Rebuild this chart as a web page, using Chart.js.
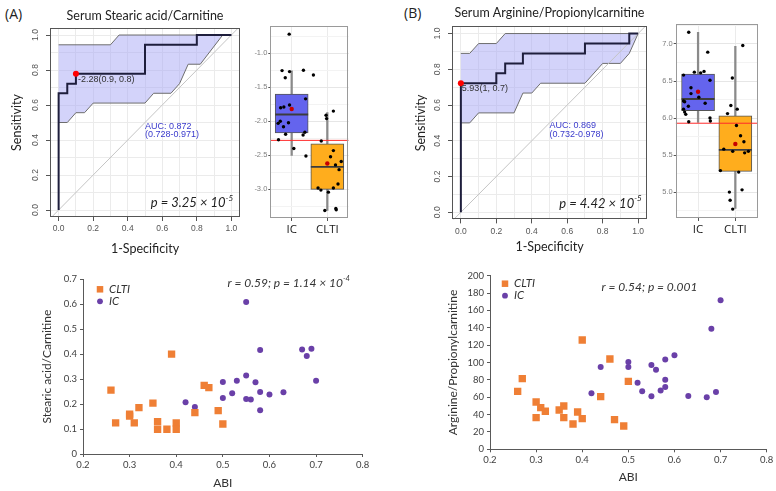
<!DOCTYPE html>
<html>
<head>
<meta charset="utf-8">
<script src="https://cdn.jsdelivr.net/npm/chart.js@4.4.1/dist/chart.umd.min.js"></script>
<style>
  body { margin: 0; background: #fff; }
  #fig { position: relative; width: 776px; height: 491px; overflow: hidden; background: #fff; }
  #fig canvas { position: absolute; }
  .tag { position: absolute; font: 14px "Open Sans", sans-serif; color: #222; }
</style>
</head>
<body>
<div id="fig">
  <div class="tag" style="left:5px;top:4px">(A)</div>
  <div class="tag" style="left:404px;top:3px">(B)</div>
  <canvas id="rocA" width="250" height="262" style="left:0;top:0"></canvas>
  <canvas id="boxA" width="115" height="245" style="left:252px;top:0"></canvas>
  <canvas id="rocB" width="265" height="262" style="left:390px;top:0"></canvas>
  <canvas id="boxB" width="119" height="245" style="left:657px;top:0"></canvas>
  <canvas id="scatA" width="376" height="226" style="left:0;top:265px"></canvas>
  <canvas id="scatB" width="386" height="229" style="left:390px;top:262px"></canvas>
</div>
<script>
// ---- ROC curves (x = 1-specificity, y = sensitivity) ----
var rocTicks = [0, 0.1, 0.2, 0.3, 0.4, 0.5, 0.6, 0.7, 0.8, 0.9, 1];
var diag = [-0.05, 1.05];

var rocAX = [0, 0, 0.05, 0.05, 0.1, 0.1, 0.5, 0.5, 0.8, 0.8, 1];
var rocAY = [0, 0.667, 0.667, 0.722, 0.722, 0.778, 0.778, 0.944, 0.944, 1, 1];
var bandAUpX = [0, 0.3, 0.35, 1];
var bandAUpY = [0.944, 0.944, 1, 1];
var bandALoX = [0, 0.05, 0.1, 0.15, 0.2, 0.5, 0.55, 0.65, 0.7, 0.75, 0.82, 0.95, 1];
var bandALoY = [0.5, 0.5, 0.556, 0.556, 0.611, 0.611, 0.667, 0.667, 0.722, 0.833, 0.833, 1, 1];
var cutA = [0.1, 0.778];

var rocBX = [0, 0, 0.2, 0.2, 0.25, 0.25, 0.35, 0.35, 0.7, 0.7, 0.95, 0.95, 1];
var rocBY = [0, 0.722, 0.722, 0.778, 0.778, 0.833, 0.833, 0.889, 0.889, 0.944, 0.944, 1, 1];
var bandBUpX = [0, 0.05, 0.1, 0.2, 0.25, 1];
var bandBUpY = [0.889, 0.889, 0.944, 0.944, 1, 1];
var bandBLoX = [0, 0.05, 0.1, 0.3, 0.35, 0.4, 0.45, 0.7, 0.8, 0.9, 0.95, 1];
var bandBLoY = [0.5, 0.5, 0.556, 0.556, 0.667, 0.667, 0.722, 0.722, 0.833, 0.833, 0.889, 1];
var cutB = [0, 0.722];

// ---- box plots ----
var groups = ["IC", "CLTI"];
var loA = [-2.5, -3.31], q1A = [-2.17, -3.0], medA = [-1.9, -2.67], q3A = [-1.6, -2.33], hiA = [-1.26, -1.87];
var meanA = [-1.82, -2.62];
var thrA = -2.28;
var icJitA = [-0.07, -0.27, -0.06, -0.18, 0.33, 0.61, -0.31, -0.22, -0.06, 0.39, -0.38, -0.32, -0.09, -0.23, -0.17, 0.32, 0.37, -0.37, 0.06, 0.40];
var icPtsA = [-0.72, -1.255, -1.27, -1.36, -1.25, -1.32, -1.80, -1.79, -1.76, -1.67, -2.03, -2.0, -2.02, -2.08, -2.19, -2.2, -2.16, -2.27, -2.40, -2.51];
var cltiJitA = [-0.17, -0.035, -0.02, 0.17, 0.17, 0.09, 0.23, 0.39, 0.33, 0.30, -0.26, -0.18, 0.17, 0.03, -0.07, 0.24, 0.25];
var cltiPtsA = [-2.29, -1.91, -1.96, -1.85, -2.43, -2.52, -2.64, -2.59, -2.71, -2.92, -2.98, -3.01, -2.98, -3.04, -3.31, -3.28, -3.30];
var boxTicksA = [-3.25, -3.0, -2.75, -2.5, -2.25, -2.0, -1.75, -1.5, -1.25, -1.0, -0.75];

var loB = [5.94, 4.78], q1B = [6.10, 5.28], medB = [6.257, 5.57], q3B = [6.595, 6.03], hiB = [7.158, 6.97];
var meanB = [6.355, 5.65];
var thrB = 5.93;
var icJitB = [-0.25, 0.26, -0.1, 0.07, 0.16, -0.39, 0.32, -0.19, -0.19, 0.02, -0.39, -0.36, 0.19, -0.26, -0.39, -0.36, -0.33, 0.32, 0.33, -0.25];
var icPtsB = [7.158, 6.89, 6.62, 6.61, 6.63, 6.58, 6.51, 6.41, 6.33, 6.28, 6.23, 6.22, 6.20, 6.16, 6.12, 6.08, 6.05, 6.0, 5.96, 5.95];
var cltiJitB = [0.20, -0.08, -0.12, 0.05, 0.03, -0.21, 0.14, 0.23, -0.31, -0.07, 0.25, 0.35, -0.40, 0.09, 0.18, -0.16, -0.14, -0.07];
var cltiPtsB = [6.98, 6.54, 6.17, 6.12, 5.90, 6.06, 5.76, 5.68, 5.58, 5.55, 5.53, 5.55, 5.29, 5.27, 5.03, 5.0, 4.89, 4.77];
var boxTicksB = [4.75, 5.0, 5.25, 5.5, 5.75, 6.0, 6.25, 6.5, 6.75, 7.0, 7.25];

// ---- ABI scatter ----
var abiTicks = [0.2, 0.3, 0.4, 0.5, 0.6, 0.7, 0.8];
var cltiAbiA = [0.26, 0.27, 0.30, 0.30, 0.31, 0.32, 0.35, 0.36, 0.36, 0.38, 0.39, 0.40, 0.40, 0.44, 0.46, 0.47, 0.49, 0.50];
var cltiValA = [0.256, 0.125, 0.160, 0.152, 0.125, 0.186, 0.204, 0.13, 0.099, 0.099, 0.40, 0.125, 0.099, 0.166, 0.275, 0.266, 0.174, 0.12];
var icAbiA = [0.42, 0.44, 0.50, 0.50, 0.52, 0.53, 0.55, 0.55, 0.55, 0.56, 0.57, 0.58, 0.58, 0.58, 0.60, 0.63, 0.67, 0.68, 0.69, 0.70];
var icValA = [0.207, 0.188, 0.288, 0.224, 0.243, 0.294, 0.609, 0.315, 0.220, 0.218, 0.287, 0.417, 0.248, 0.175, 0.238, 0.247, 0.419, 0.393, 0.422, 0.294];
var valTicksA = [0, 0.1, 0.2, 0.3, 0.4, 0.5, 0.6, 0.7];

var cltiAbiB = [0.26, 0.27, 0.30, 0.30, 0.31, 0.32, 0.35, 0.36, 0.36, 0.38, 0.39, 0.40, 0.40, 0.44, 0.46, 0.47, 0.49, 0.50];
var cltiValB = [66.8, 81.4, 54.5, 36.5, 48, 43.8, 45.3, 49.9, 36.5, 29.2, 43, 35.3, 125.9, 60.7, 104, 34.2, 26.9, 78.3];
var icAbiB = [0.42, 0.44, 0.50, 0.50, 0.52, 0.53, 0.55, 0.55, 0.56, 0.57, 0.58, 0.58, 0.58, 0.60, 0.63, 0.67, 0.68, 0.69, 0.70];
var icValB = [64.5, 94.8, 100.6, 94.8, 76.8, 66.8, 61, 97.1, 91.7, 67.6, 71.8, 80.2, 103.6, 108.3, 61.4, 59.9, 139, 66, 171.6];
var valTicksB = [0, 20, 40, 60, 80, 100, 120, 140, 160, 180, 200];

var ORANGE = "#EF7F35", PURPLE = "#6A40A8";

function pts(xs, ys) {
  return xs.map(function (x, i) { return { x: x, y: ys[i] }; });
}
function setTicks(list) {
  return function (scale) { scale.ticks = list.map(function (v) { return { value: v }; }); };
}
function isEven10(v) { return Math.round(v * 10) % 2 === 0; }

// texto con superindice
function drawRich(ctx, it, x, y) {
  var size = it.size || 12, fam = it.family || "Lato", st = it.italic ? "italic " : "";
  var parts = it.parts, w = 0;
  ctx.save();
  ctx.fillStyle = it.color || "#222";
  ctx.textBaseline = "middle";
  ctx.textAlign = "left";
  parts.forEach(function (p) {
    ctx.font = st + (p.sup ? size * 0.62 : size) + "px " + fam;
    w += ctx.measureText(p.t).width;
  });
  var cx = it.align === "right" ? x - w : x;
  parts.forEach(function (p) {
    ctx.font = st + (p.sup ? size * 0.62 : size) + "px " + fam;
    ctx.fillText(p.t, cx, p.sup ? y - size * 0.38 : y);
    cx += ctx.measureText(p.t).width;
  });
  ctx.restore();
}

var notesPlugin = {
  id: "notes",
  afterDatasetsDraw: function (chart, args, opts) {
    var ctx = chart.ctx, sx = chart.scales.x, sy = chart.scales.y;
    (opts.items || []).forEach(function (it) {
      drawRich(ctx, it, sx.getPixelForValue(it.x) + (it.dx || 0), sy.getPixelForValue(it.y) + (it.dy || 0));
    });
  }
};

var framePlugin = {
  id: "frame",
  afterDatasetsDraw: function (chart, args, opts) {
    var a = chart.chartArea, ctx = chart.ctx;
    ctx.save();
    ctx.strokeStyle = opts.color || "#555";
    ctx.lineWidth = 1;
    ctx.strokeRect(Math.round(a.left) + 0.5, Math.round(a.top) + 0.5, Math.round(a.width) - 1, Math.round(a.height) - 1);
    ctx.restore();
  }
};

// etiquetas del eje y giradas (estilo R)
var rotTicksPlugin = {
  id: "rotTicks",
  afterDraw: function (chart, args, opts) {
    var ctx = chart.ctx, sy = chart.scales.y, a = chart.chartArea;
    ctx.save();
    ctx.font = "8.5px 'Liberation Sans'";
    ctx.fillStyle = "#555";
    ctx.textAlign = "center";
    ctx.textBaseline = "middle";
    rocTicks.forEach(function (v) {
      if (!isEven10(v)) return;
      ctx.save();
      ctx.translate(a.left - 14, sy.getPixelForValue(v));
      ctx.rotate(-Math.PI / 2);
      ctx.fillText(v.toFixed(1), 0, 0);
      ctx.restore();
    });
    ctx.restore();
  }
};

var keyPlugin = {
  id: "key",
  afterDatasetsDraw: function (chart, args, opts) {
    var ctx = chart.ctx, a = chart.chartArea;
    chart.data.datasets.forEach(function (ds, i) {
      var y = a.top + opts.top + i * opts.gap;
      ctx.save();
      ctx.fillStyle = ds.backgroundColor;
      Chart.helpers.drawPoint(ctx, { pointStyle: ds.pointStyle, radius: ds.pointStyle === "rect" ? 4.6 : 2.9, rotation: 0, borderWidth: 0 }, a.left + opts.left, y);
      ctx.font = "italic 11.5px Lato";
      ctx.fillStyle = "#333";
      ctx.textBaseline = "middle";
      ctx.fillText(ds.label, a.left + opts.left + 9, y);
      ctx.restore();
    });
  }
};

function rocChart(id, c) {
  var band = pts(c.upX, c.upY).concat(pts(c.loX, c.loY).reverse());
  return new Chart(document.getElementById(id), {
    type: "scatter",
    data: {
      datasets: [
        { data: [{ x: c.cut[0], y: c.cut[1] }], pointRadius: 3, backgroundColor: "#ff0000", borderWidth: 0, order: 0 },
        { data: pts(c.curveX, c.curveY), showLine: true, borderColor: "#1e1e3c", borderWidth: 2, pointRadius: 0, order: 1 },
        { data: pts(diag, diag), showLine: true, borderColor: "#c4c4c4", borderWidth: 1, pointRadius: 0, order: 2 },
        { data: band, showLine: true, fill: "shape", backgroundColor: "rgba(168,168,245,0.5)", borderColor: "#6e6e6e", borderWidth: 1, pointRadius: 0, order: 3 }
      ]
    },
    options: {
      responsive: false,
      animation: false,
      events: [],
      layout: { padding: { right: c.padRight } },
      plugins: {
        legend: { display: false },
        tooltip: { enabled: false },
        title: { display: true, text: c.title, fullSize: false, color: "#222", font: { family: "Lato", size: 12.5, weight: "normal" }, padding: c.titlePad },
        frame: { color: "#555" },
        notes: { items: c.notes }
      },
      scales: {
        x: {
          type: "linear", min: -0.05, max: 1.05,
          afterBuildTicks: setTicks(rocTicks),
          afterFit: function (s) { s.height = c.xh; },
          ticks: { callback: function (v) { return isEven10(v) ? v.toFixed(1) : ""; }, font: { family: "Liberation Sans", size: 8.5 }, color: "#555", padding: 3, maxRotation: 0 },
          grid: { color: "#ebebeb", tickLength: 4, tickColor: function (ctx) { return ctx.tick && isEven10(ctx.tick.value) ? "#555" : "rgba(0,0,0,0)"; } },
          border: { display: false },
          title: { display: true, text: "1-Specificity", color: "#222", font: { family: "Lato", size: 12.5 }, padding: { top: 0, bottom: c.xtPad } }
        },
        y: {
          type: "linear", min: -0.04, max: 1.04,
          afterBuildTicks: setTicks(rocTicks),
          afterFit: function (s) { s.width = c.yw; },
          ticks: { display: false },
          grid: { color: "#ebebeb", tickLength: 4, tickColor: function (ctx) { return ctx.tick && isEven10(ctx.tick.value) ? "#555" : "rgba(0,0,0,0)"; } },
          border: { display: false },
          title: { display: true, text: "Sensitivity", color: "#222", font: { family: "Lato", size: 12.5 }, padding: { top: c.ytPad, bottom: 0 } }
        }
      }
    },
    plugins: [framePlugin, notesPlugin, rotTicksPlugin]
  });
}

function boxChart(id, c) {
  var majorY = function (v) { return Math.abs(v * 2 - Math.round(v * 2)) < 1e-6; };
  return new Chart(document.getElementById(id), {
    type: "scatter",
    data: {
      datasets: [
        { data: c.icPts.map(function (v, i) { return { x: 0 + c.icJit[i], y: v }; }), pointRadius: 1.7, backgroundColor: "#000", borderWidth: 0, order: 0 },
        { data: c.cltiPts.map(function (v, i) { return { x: 1 + c.cltiJit[i], y: v }; }), pointRadius: 1.7, backgroundColor: "#000", borderWidth: 0, order: 0 },
        { data: groups.map(function (g, i) { return { x: i, y: c.mean[i] }; }), pointRadius: 2.2, backgroundColor: "#c80000", borderWidth: 0, order: 1 },
        { data: [{ x: -0.6, y: c.thr }, { x: 1.6, y: c.thr }], showLine: true, borderColor: "#ff2a2a", borderWidth: 1, pointRadius: 0, order: 2 },
        { data: groups.map(function (g, i) { return { x: i, y: c.med[i] }; }), pointStyle: "line", pointRadius: 16.5, borderColor: "#3c3c3c", borderWidth: 1.8, order: 3 },
        { type: "bar", data: groups.map(function (g, i) { return { x: i, y: [c.q1[i], c.q3[i]] }; }), backgroundColor: ["#6464EE", "#FFAD1D"], borderColor: "#555", borderWidth: 1, borderSkipped: false, barThickness: 33, grouped: false, order: 4 },
        { type: "bar", data: groups.map(function (g, i) { return { x: i, y: [c.lo[i], c.hi[i]] }; }), backgroundColor: "#8a8a8a", barThickness: 1.6, grouped: false, order: 5 }
      ]
    },
    options: {
      responsive: false,
      animation: false,
      events: [],
      layout: { padding: { top: c.top, right: c.padRight } },
      plugins: { legend: { display: false }, tooltip: { enabled: false }, frame: { color: "#9a9a9a" } },
      scales: {
        x: {
          type: "linear", min: -0.6, max: 1.6, offset: false,
          afterBuildTicks: setTicks([0, 1]),
          afterFit: function (s) { s.height = 27; },
          ticks: { callback: function (v) { return groups[v]; }, font: { family: "Open Sans", size: 11.5 }, color: "#1a1a1a", padding: 2, maxRotation: 0 },
          grid: { color: "#ebebeb", offset: false, tickLength: 3, tickColor: "#555" },
          border: { display: false }
        },
        y: {
          type: "linear", min: c.ymin, max: c.ymax, beginAtZero: false,
          afterBuildTicks: setTicks(c.ticks),
          afterFit: function (s) { s.width = c.yw; },
          ticks: { callback: function (v) { return majorY(v) ? v.toFixed(1) : ""; }, font: { family: "Liberation Sans", size: 7.5 }, color: "#808080", padding: 1 },
          grid: {
            color: function (ctx) { return ctx.tick && majorY(ctx.tick.value) ? "#e6e6e6" : "#f3f3f3"; },
            tickLength: 2,
            tickColor: function (ctx) { return ctx.tick && majorY(ctx.tick.value) ? "#555" : "rgba(0,0,0,0)"; }
          },
          border: { display: false }
        }
      }
    },
    plugins: [framePlugin]
  });
}

function scatterChart(id, c) {
  return new Chart(document.getElementById(id), {
    type: "scatter",
    data: {
      datasets: [
        { label: "CLTI", data: pts(c.cltiX, c.cltiY), pointStyle: "rect", pointRadius: 5.2, backgroundColor: ORANGE, borderWidth: 0 },
        { label: "IC", data: pts(c.icX, c.icY), pointStyle: "circle", pointRadius: 3, backgroundColor: PURPLE, borderWidth: 0 }
      ]
    },
    options: {
      responsive: false,
      animation: false,
      events: [],
      layout: { padding: { top: c.top, right: c.padRight } },
      plugins: {
        legend: { display: false },
        tooltip: { enabled: false },
        key: c.key,
        notes: { items: c.notes }
      },
      scales: {
        x: {
          type: "linear", min: 0.2, max: 0.8,
          afterBuildTicks: setTicks(abiTicks),
          afterFit: function (s) { s.height = c.xh; },
          ticks: { callback: function (v) { return v.toFixed(1); }, font: { family: "Lato", size: 9.5 }, color: "#404040", padding: 2, maxRotation: 0 },
          grid: { drawOnChartArea: false, tickLength: 3, tickColor: "#595959" },
          border: { color: "#595959", width: 1 },
          title: { display: true, text: "ABI", color: "#333", font: { family: "Lato", size: 12 }, padding: { top: 0, bottom: c.xtPad } }
        },
        y: {
          type: "linear", min: c.ymin, max: c.ymax,
          afterBuildTicks: setTicks(c.yTicks),
          afterFit: function (s) { s.width = c.yw; },
          ticks: { callback: c.yFmt, font: { family: "Lato", size: 9.5 }, color: "#404040", padding: 3 },
          grid: { drawOnChartArea: false, tickLength: 3, tickColor: "#595959" },
          border: { color: "#595959", width: 1 },
          title: { display: true, text: c.yTitle, color: "#333", font: { family: "Lato", size: 12 }, padding: { top: c.ytPad, bottom: 0 } }
        }
      }
    },
    plugins: [keyPlugin, notesPlugin]
  });
}

var aucFont = { size: 9, family: "'Liberation Sans'", color: "#3a3acc" };

rocChart("rocA", {
  title: "Serum Stearic acid/Carnitine",
  curveX: rocAX, curveY: rocAY, upX: bandAUpX, upY: bandAUpY, loX: bandALoX, loY: bandALoY, cut: cutA,
  padRight: 10, titlePad: { top: 8, bottom: 5 }, xh: 45, yw: 50, xtPad: 5.6, ytPad: 9.6,
  notes: [
    { parts: [{ t: "-2.28(0.9, 0.8)" }], x: cutA[0], y: cutA[1], dx: 2, dy: 6, size: 9, family: "'Liberation Sans'", color: "#333" },
    { parts: [{ t: "AUC: 0.872" }], x: 0.5, y: 0.478, size: aucFont.size, family: aucFont.family, color: aucFont.color },
    { parts: [{ t: "(0.728-0.971)" }], x: 0.5, y: 0.433, size: aucFont.size, family: aucFont.family, color: aucFont.color },
    { parts: [{ t: "p = 3.25 × 10" }, { t: "-5", sup: true }], x: 1.01, y: 0.04, align: "right", size: 13, italic: true, family: "Lato", color: "#222" }
  ]
});

rocChart("rocB", {
  title: "Serum Arginine/Propionylcarnitine",
  curveX: rocBX, curveY: rocBY, upX: bandBUpX, upY: bandBUpY, loX: bandBLoX, loY: bandBLoY, cut: cutB,
  padRight: 8, titlePad: { top: 5, bottom: 6.4 }, xh: 42.6, yw: 62, xtPad: 7.8, ytPad: 23.3,
  notes: [
    { parts: [{ t: "5.93(1, 0.7)" }], x: cutB[0], y: cutB[1], dx: 1, dy: 5, size: 9, family: "'Liberation Sans'", color: "#333" },
    { parts: [{ t: "AUC: 0.869" }], x: 0.5, y: 0.487, size: aucFont.size, family: aucFont.family, color: aucFont.color },
    { parts: [{ t: "(0.732-0.978)" }], x: 0.5, y: 0.434, size: aucFont.size, family: aucFont.family, color: aucFont.color },
    { parts: [{ t: "p = 4.42 × 10" }, { t: "-5", sup: true }], x: 1.02, y: 0.05, align: "right", size: 13, italic: true, family: "Lato", color: "#222" }
  ]
});

boxChart("boxA", {
  lo: loA, q1: q1A, med: medA, q3: q3A, hi: hiA, mean: meanA, thr: thrA,
  icJit: icJitA, icPts: icPtsA, cltiJit: cltiJitA, cltiPts: cltiPtsA,
  ymin: -3.42, ymax: -0.6, ticks: boxTicksA, yw: 16, top: 26, padRight: 4
});

boxChart("boxB", {
  lo: loB, q1: q1B, med: medB, q3: q3B, hi: hiB, mean: meanB, thr: thrB,
  icJit: icJitB, icPts: icPtsB, cltiJit: cltiJitB, cltiPts: cltiPtsB,
  ymin: 4.65, ymax: 7.27, ticks: boxTicksB, yw: 18.7, top: 24, padRight: 3.3
});

scatterChart("scatA", {
  cltiX: cltiAbiA, cltiY: cltiValA, icX: icAbiA, icY: icValA,
  ymin: 0, ymax: 0.7, yTicks: valTicksA, yFmt: function (v) { return v === 0 ? "0" : v.toFixed(1); },
  yTitle: "Stearic acid/Carnitine", top: 14.3, padRight: 13.3, xh: 37, yw: 83, xtPad: 0.8, ytPad: 40.2,
  key: { left: 17, top: 10, gap: 12 },
  notes: [{ parts: [{ t: "r = 0.59; p = 1.14 × 10" }, { t: "-4", sup: true }], x: 0.51, y: 0.686, size: 12, italic: true, family: "Lato", color: "#333" }]
});

scatterChart("scatB", {
  cltiX: cltiAbiB, cltiY: cltiValB, icX: icAbiB, icY: icValB,
  ymin: 0, ymax: 200, yTicks: valTicksB, yFmt: function (v) { return String(v); },
  yTitle: "Arginine/Propionylcarnitine", top: 13.7, padRight: 9.3, xh: 41.7, yw: 100, xtPad: 7, ytPad: 56.2,
  key: { left: 15, top: 8, gap: 12 },
  notes: [{ parts: [{ t: "r = 0.54; p = 0.001" }], x: 0.442, y: 187, size: 12, italic: true, family: "Lato", color: "#333" }]
});
</script>
</body>
</html>
